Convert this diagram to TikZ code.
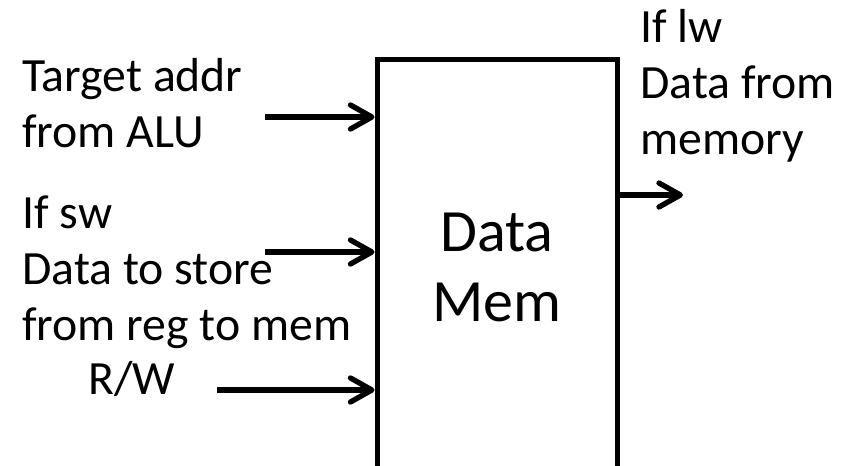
\documentclass[tikz,border=0pt]{standalone}
\usepackage{fontspec}
\setmainfont{Carlito}
\usetikzlibrary{arrows.meta}
\begin{document}
\begin{tikzpicture}[x=0.75pt,y=-0.75pt,
    sig/.style={line width=4pt,-{Straight Barb[length=16pt,width=18pt,round]}},
    lbl/.style={font=\fontsize{35.8}{42}\selectfont,inner sep=0pt,align=left}]
        \useasboundingbox (0,0) rectangle (850,466);
        \clip (0,0) rectangle (850,466);
        \node (mem) at (497,267.5) [draw,line width=3.75pt,minimum width=180pt,minimum height=311.25pt,
            align=center,font=\fontsize{45}{52.5}\selectfont] {Data\\Mem};
        % base anchor sits on the last line
        \node (addr) at (22,148) [lbl,anchor=base west] {Target addr\\from ALU};
        \node (sw) at (22,341) [lbl,anchor=base west] {If sw\\Data to store\\from reg to mem};
        \node (rw) at (88,395) [lbl,anchor=base west] {R/W};
        \node (lw) at (640,155) [lbl,anchor=base west] {If lw\\Data from\\memory};
        \coordinate (addrin) at (265,117);
        \coordinate (swin) at (265,252);
        \coordinate (rwin) at (217,390);
        \coordinate (lwout) at (683,195);
        \foreach \c in {addrin,swin,rwin}{
            \draw [sig] (\c) -- (\c -| mem.west);
        }
        \draw [sig] (mem.east |- lwout) -- (lwout);
\end{tikzpicture}
\end{document}
